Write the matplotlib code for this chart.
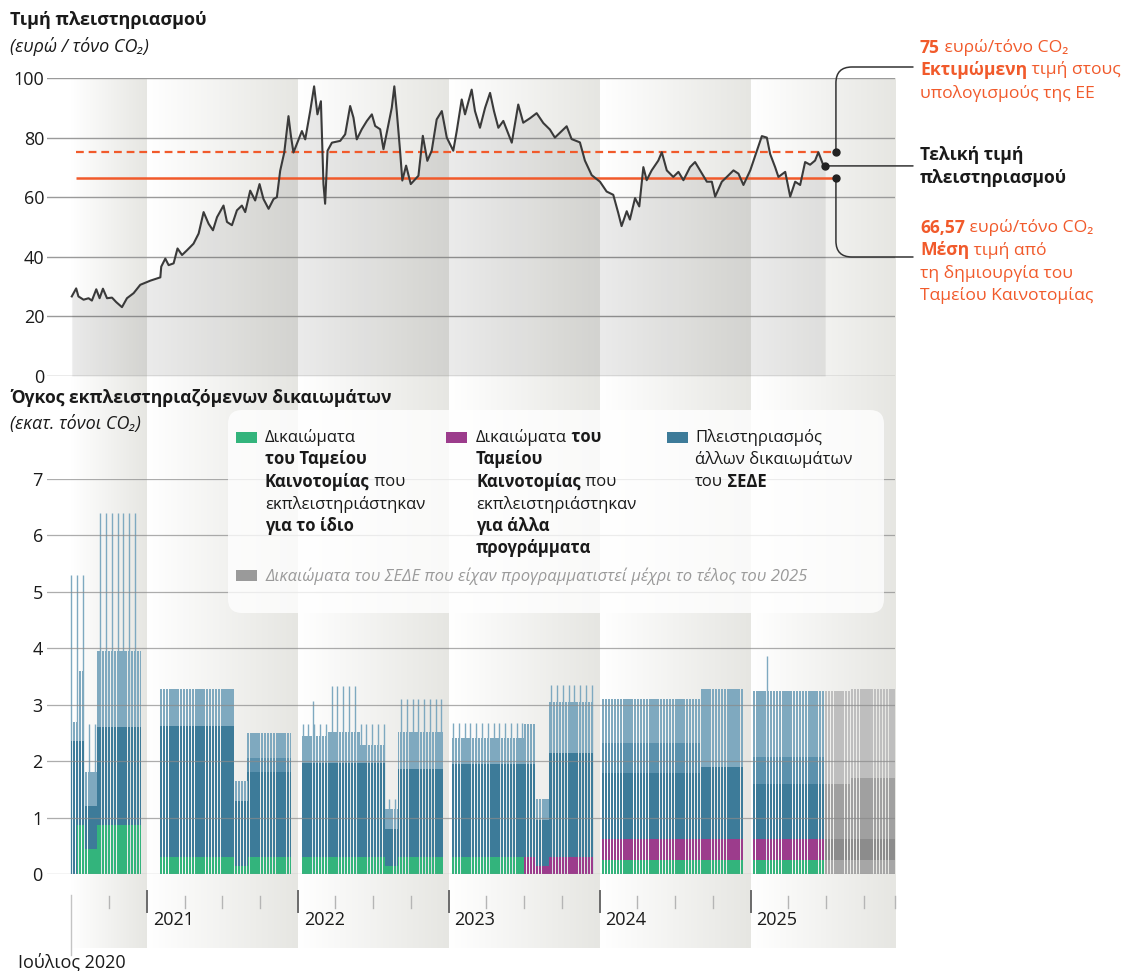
import numpy as np
import pandas as pd
import matplotlib
matplotlib.use("Agg")
import matplotlib.pyplot as plt
import matplotlib.dates as mdates
from matplotlib.colors import LinearSegmentedColormap
from matplotlib.patches import FancyBboxPatch, Rectangle
from matplotlib.transforms import IdentityTransform

plt.rcParams["font.family"] = ["Open Sans", "DejaVu Sans"]

# auction clearing price, EUR / t CO2 (decimal year)
price_t = [
    2020.500, 2020.529, 2020.544, 2020.578, 2020.611, 2020.633, 2020.662, 2020.684, 2020.706, 2020.733, 2020.766, 2020.794, 2020.832, 2020.865, 2020.909, 2020.953,
    2021.020, 2021.086, 2021.092, 2021.119, 2021.141, 2021.174, 2021.200, 2021.230, 2021.263, 2021.306, 2021.340, 2021.373, 2021.406, 2021.435, 2021.462, 2021.505, 2021.528, 2021.561, 2021.594, 2021.627, 2021.649, 2021.682, 2021.715, 2021.744, 2021.770, 2021.804, 2021.837, 2021.859, 2021.881, 2021.908, 2021.936, 2021.952, 2021.969,
    2022.025, 2022.047, 2022.080, 2022.106, 2022.128, 2022.151, 2022.168, 2022.179, 2022.195, 2022.224, 2022.279, 2022.312, 2022.345, 2022.367, 2022.389, 2022.422, 2022.456, 2022.489, 2022.511, 2022.544, 2022.566, 2022.599, 2022.621, 2022.638, 2022.654, 2022.676, 2022.691, 2022.716, 2022.747, 2022.798, 2022.827, 2022.857, 2022.886, 2022.919, 2022.953, 2022.986,
    2023.029, 2023.052, 2023.085, 2023.107, 2023.151, 2023.173, 2023.206, 2023.240, 2023.273, 2023.299, 2023.328, 2023.361, 2023.417, 2023.460, 2023.493, 2023.538, 2023.582, 2023.626, 2023.670, 2023.703, 2023.748, 2023.781, 2023.814, 2023.869, 2023.902, 2023.947,
    2024.002, 2024.046, 2024.090, 2024.123, 2024.145, 2024.179, 2024.200, 2024.234, 2024.262, 2024.289, 2024.311, 2024.344, 2024.388, 2024.411, 2024.444, 2024.487, 2024.521, 2024.554, 2024.598, 2024.631, 2024.664, 2024.709, 2024.742, 2024.764, 2024.808, 2024.841, 2024.885, 2024.918, 2024.951, 2024.996,
    2025.040, 2025.073, 2025.106, 2025.128, 2025.161, 2025.183, 2025.228, 2025.261, 2025.294, 2025.327, 2025.360, 2025.393, 2025.426, 2025.448, 2025.481, 2025.493,
]
price_v = [
    26.7, 29.4, 26.7, 25.6, 26.1, 25.3, 29.1, 26.1, 29.3, 26.1, 26.3, 24.8, 23.1, 26.1, 27.8, 30.6,
    32.0, 33.1, 36.7, 39.4, 37.2, 37.8, 42.8, 40.6, 42.2, 44.4, 47.8, 55.0, 51.1, 48.9, 53.3, 57.2, 51.7, 50.6, 55.6, 57.2, 55.0, 62.2, 58.9, 64.4, 59.4, 56.1, 59.4, 60.0, 68.9, 75.0, 87.2, 80.6, 75.0,
    82.2, 79.4, 88.9, 97.2, 87.8, 92.2, 64.4, 57.8, 75.6, 78.3, 78.9, 81.1, 90.6, 86.7, 79.4, 82.8, 85.6, 87.8, 83.9, 82.8, 76.1, 84.4, 90.0, 97.2, 88.9, 75.6, 65.6, 70.6, 64.4, 67.2, 80.6, 72.2, 75.6, 86.1, 88.9, 80.0,
    75.6, 82.2, 92.8, 87.8, 96.1, 88.9, 83.3, 90.0, 95.0, 88.9, 83.3, 85.6, 78.3, 91.1, 85.0, 86.5, 88.2, 84.9, 82.7, 80.0, 82.2, 83.8, 79.5, 78.4, 72.3, 67.4,
    65.2, 61.9, 60.8, 54.7, 50.3, 55.3, 52.5, 59.7, 56.9, 70.1, 65.7, 69.0, 72.3, 75.1, 69.0, 66.8, 68.5, 65.7, 70.1, 71.8, 69.0, 65.2, 65.2, 60.2, 65.2, 66.8, 69.0, 67.9, 64.1, 69.0,
    75.6, 80.5, 80.0, 74.5, 70.1, 66.8, 68.5, 60.2, 65.2, 64.1, 71.8, 70.9, 72.3, 75.1, 70.7, 70.5,
]

ref_price = 75.0      # EU estimate
avg_price = 66.57     # average since the Innovation Fund started
ref_from, ref_to = "2020-07-12", "2025-07-26"

# auction volumes per auction day (mn t CO2), constant over each period
seg_start = ["2020-07-01", "2020-07-16", "2020-08-03", "2020-09-01", "2021-01-29", "2021-08-02", "2021-09-01",
             "2022-01-10", "2022-03-16", "2022-06-01", "2022-08-01", "2022-09-01", "2023-01-09", "2023-07-03",
             "2023-08-01", "2023-09-01", "2024-01-08", "2024-09-02", "2025-01-06", "2025-07-01", "2025-09-01"]
seg_end = ["2020-07-15", "2020-07-31", "2020-08-31", "2020-12-15", "2021-07-30", "2021-08-31", "2021-12-15",
           "2022-03-15", "2022-05-31", "2022-07-29", "2022-08-31", "2022-12-16", "2023-06-30", "2023-07-31",
           "2023-08-31", "2023-12-15", "2024-08-30", "2024-12-13", "2025-06-30", "2025-08-29", "2025-12-15"]
inno_own = [0.00, 0.87, 0.45, 0.87, 0.31, 0.15, 0.31, 0.30, 0.30, 0.30, 0.15, 0.30, 0.30, 0.00, 0.00, 0.00, 0.24, 0.24, 0.24, 0.24, 0.24]
inno_other = [0.00, 0.00, 0.00, 0.00, 0.00, 0.00, 0.00, 0.00, 0.00, 0.00, 0.00, 0.00, 0.00, 0.30, 0.15, 0.30, 0.38, 0.38, 0.38, 0.38, 0.38]
total_low = [2.35, 2.35, 1.20, 2.60, 2.62, 1.30, 1.80, 1.96, 1.96, 1.96, 0.80, 1.86, 1.95, 1.95, 0.96, 2.15, 1.79, 1.90, 1.60, 1.60, 1.70]
total_mid = [2.35, 2.35, 1.20, 2.60, 2.62, 1.30, 2.05, 1.96, 1.96, 1.96, 0.80, 1.86, 1.95, 1.95, 0.96, 2.15, 2.32, 1.90, 2.07, 1.60, 1.70]
total_high = [2.70, 3.60, 1.80, 3.95, 3.28, 1.65, 2.50, 2.45, 2.51, 2.29, 1.15, 2.51, 2.41, 2.66, 1.33, 3.04, 3.10, 3.28, 3.25, 3.25, 3.28]
spike = [5.30, 5.30, 2.65, 6.40, 0, 0, 0, 2.66, 3.33, 2.66, 1.33, 3.10, 2.67, 0, 0, 3.35, 0, 0, 0, 0, 0]
planned = [0, 0, 0, 0, 0, 0, 0, 0, 0, 0, 0, 0, 0, 0, 0, 0, 0, 0, 0, 1, 1]
extra_spike_day = ["2022-02-07", "2025-02-10"]
extra_spike_val = [3.07, 3.87]

year_bands = ["2020-07-01", "2021-01-01", "2022-01-01", "2023-01-01", "2024-01-01", "2025-01-01", "2025-12-16"]
year_labels = ["2021", "2022", "2023", "2024", "2025"]

ORANGE = "#f15a2b"
GREEN, PURPLE, BLUE, BLUE_MID, BLUE_LIGHT = "#33b47c", "#9c3c8c", "#3d7b99", "#5b91ad", "#7fa9bf"
G_LOW, G_PURP, G_DARK, G_LIGHT = "#a6a6a6", "#8c8c8c", "#a0a0a0", "#bebebe"
INK = "#1a1a1a"

W, H = 1126, 971
fig = plt.figure(figsize=(W / 100, H / 100), dpi=100)


def box(x0, y0, x1, y1):
    return [x0 / W, 1 - y1 / H, (x1 - x0) / W, (y1 - y0) / H]


def ydate(t):
    y = int(t)
    a = pd.Timestamp(year=y, month=1, day=1)
    return a + (t - y) * (pd.Timestamp(year=y + 1, month=1, day=1) - a)


def dn(s):
    return mdates.date2num(pd.Timestamp(s))


x_lo, x_hi = dn("2020-05-03"), dn("2025-12-16")

ax_bg = fig.add_axes(box(47, 78, 895, 948), zorder=0)
ax_top = fig.add_axes(box(47, 78, 895, 376), zorder=2)
ax_bot = fig.add_axes(box(47, 479, 895, 874), zorder=2)
for a in (ax_bg, ax_top, ax_bot):
    a.patch.set_visible(False)
    for s in a.spines.values():
        s.set_visible(False)

# year bands: white to light grey
band_cmap = LinearSegmentedColormap.from_list("band", ["#ffffff", "#e6e6e2"])
grad = np.linspace(0, 1, 256).reshape(1, -1)
for a, b in zip(year_bands[:-1], year_bands[1:]):
    ax_bg.imshow(grad, cmap=band_cmap, aspect="auto", extent=[dn(a), dn(b), 0, 1])
ax_bg.set_xlim(x_lo, x_hi)
ax_bg.set_ylim(0, 1)
ax_bg.axis("off")

# ---- price panel
pdates = mdates.date2num([ydate(t) for t in price_t])
ax_top.set_xlim(x_lo, x_hi)
ax_top.set_ylim(0, 100)
ax_top.set_yticks(range(0, 101, 20))
ax_top.set_xticks([])
ax_top.tick_params(axis="y", length=0, pad=2, labelsize=13, labelcolor=INK)
ax_top.grid(axis="y", color="#9a9a9a", lw=1)
ax_top.set_axisbelow(True)
ax_top.fill_between(pdates, price_v, 0, color="black", alpha=0.08, lw=0)
ax_top.plot(pdates, price_v, color="#3a3a3a", lw=1.5, zorder=4)
ax_top.hlines(ref_price, dn(ref_from), dn(ref_to), color=ORANGE, lw=1.6,
              linestyles=(0, (3.5, 2.2)), zorder=3)
ax_top.hlines(avg_price, dn(ref_from), dn(ref_to), color=ORANGE, lw=1.8, zorder=3)
ax_top.plot([dn(ref_to)] * 2, [ref_price, avg_price], "o", ms=5, color="#222", zorder=5)
ax_top.plot([pdates[-1]], [price_v[-1]], "o", ms=5, color="#222", zorder=5)

conn = dict(arrowstyle="-", shrinkA=0, shrinkB=0, color="#333", lw=1.1)
ax_top.annotate("", xy=(dn(ref_to), ref_price), xycoords="data",
                xytext=(913, H - 67), textcoords="figure pixels",
                arrowprops=dict(connectionstyle="angle,angleA=0,angleB=90,rad=16", **conn), annotation_clip=False)
ax_top.annotate("", xy=(dn(ref_to), avg_price), xycoords="data",
                xytext=(913, H - 257), textcoords="figure pixels",
                arrowprops=dict(connectionstyle="angle,angleA=0,angleB=90,rad=16", **conn), annotation_clip=False)
ax_top.annotate("", xy=(pdates[-1], price_v[-1]), xycoords="data",
                xytext=(913, price_v[-1]), textcoords=("figure pixels", "data"),
                arrowprops=dict(connectionstyle="arc3", **conn), annotation_clip=False)

# ---- volume panel
days, lv = [], {k: [] for k in ("g", "p", "lo", "mid", "hi", "pl")}
for i in range(len(seg_start)):
    d = pd.bdate_range(seg_start[i], seg_end[i])
    days.extend(d)
    lv["g"] += [inno_own[i]] * len(d)
    lv["p"] += [inno_other[i]] * len(d)
    lv["lo"] += [total_low[i]] * len(d)
    lv["mid"] += [total_mid[i]] * len(d)
    lv["hi"] += [total_high[i]] * len(d)
    lv["pl"] += [planned[i]] * len(d)
days = mdates.date2num(pd.DatetimeIndex(days))
g, p, lo, mid, hi = (np.array(lv[k]) for k in ("g", "p", "lo", "mid", "hi"))
pl = np.array(lv["pl"]) == 1


def col(c_real, c_plan):
    return np.where(pl, c_plan, c_real)


bar_kw = dict(width=1.4, linewidth=0, zorder=2)
ax_bot.bar(days, g, bottom=0, color=col(GREEN, G_LOW), **bar_kw)
ax_bot.bar(days, p, bottom=g, color=col(PURPLE, G_PURP), **bar_kw)
ax_bot.bar(days, lo - g - p, bottom=g + p, color=col(BLUE, G_DARK), **bar_kw)
ax_bot.bar(days, mid - lo, bottom=lo, color=col(BLUE_MID, G_DARK), **bar_kw)
ax_bot.bar(days, hi - mid, bottom=mid, color=col(BLUE_LIGHT, G_LIGHT), **bar_kw)

# biweekly large single auctions
sp_days, sp_val = [], []
for d in pd.date_range("2020-07-01", "2025-12-31", freq="14D"):
    for i in range(len(seg_start)):
        if pd.Timestamp(seg_start[i]) <= d <= pd.Timestamp(seg_end[i]) and spike[i] > 0:
            sp_days.append(mdates.date2num(d))
            sp_val.append(spike[i])
sp_days += [dn(s) for s in extra_spike_day]
sp_val += extra_spike_val
ax_bot.vlines(sp_days, 0, sp_val, color="#7ea9c0", lw=1.0, zorder=1.8)

ax_bot.set_xlim(x_lo, x_hi)
ax_bot.set_ylim(0, 7)
ax_bot.set_yticks(range(0, 8))
ax_bot.set_xticks([])
ax_bot.tick_params(axis="y", length=0, pad=3, labelsize=13, labelcolor=INK)
ax_bot.grid(axis="y", color="#8a8a8a", lw=0.9, alpha=0.7)
ax_bot.set_axisbelow(False)

# time axis below the bars
xt = ax_bot.get_xaxis_transform()
qs = pd.date_range("2020-10-01", "2025-10-01", freq="QS")
for q, m in zip(mdates.date2num(qs), qs.month):
    if m == 1:
        ax_bot.plot([q, q], [-0.043, -0.097], transform=xt, clip_on=False, color="#6a6a6a", lw=1.4)
    else:
        ax_bot.plot([q, q], [-0.056, -0.087], transform=xt, clip_on=False, color="#b5b5b5", lw=1.0)
ax_bot.plot([x_hi, x_hi], [-0.056, -0.087], transform=xt, clip_on=False, color="#b5b5b5", lw=1.0)
ax_bot.plot([dn("2020-07-01")] * 2, [-0.053, -0.205], transform=xt, clip_on=False, color="#c4c4c4", lw=1.0)
for yl in year_labels:
    ax_bot.annotate(yl, xy=(dn(yl + "-01-01"), -0.117), xycoords=xt, xytext=(4, 0),
                    textcoords="offset points", ha="left", va="center", fontsize=13, color=INK,
                    annotation_clip=False)
ax_bot.text(dn("2020-07-01"), -0.223, "Ιούλιος 2020", transform=xt, ha="center", va="center",
            fontsize=13, color=INK, clip_on=False)

# ---- titles
fig.text(10 / W, 1 - 20 / H, "Τιμή πλειστηριασμού", fontsize=13, fontweight="bold", color=INK, va="center")
fig.text(10 / W, 1 - 46 / H, "(ευρώ / τόνο CO₂)", fontsize=13, fontstyle="italic", color=INK, va="center")
fig.text(10 / W, 1 - 398 / H, "Όγκος εκπλειστηριαζόμενων δικαιωμάτων", fontsize=12.6, fontweight="bold",
         color=INK, va="center")
fig.text(10 / W, 1 - 424 / H, "(εκατ. τόνοι CO₂)", fontsize=13, fontstyle="italic", color=INK, va="center")

renderer = fig.canvas.get_renderer()


def runs(x, y, parts, size=12.6, color=INK, style="normal"):
    cx = x
    for txt, bold in parts:
        t = fig.text(cx / W, 1 - y / H, txt, fontsize=size, fontweight="bold" if bold else "normal",
                     fontstyle=style, color=color, va="center", ha="left", zorder=6)
        cx = t.get_window_extent(renderer).x1


# right-hand notes
runs(920, 48, [("75", True), (" ευρώ/τόνο CO₂", False)], color=ORANGE)
runs(920, 70, [("Εκτιμώμενη", True), (" τιμή στους", False)], color=ORANGE)
runs(920, 93, [("υπολογισμούς της ΕΕ", False)], color=ORANGE)
runs(920, 155, [("Τελική τιμή", True)])
runs(920, 178, [("πλειστηριασμού", True)])
runs(920, 228, [("66,57", True), (" ευρώ/τόνο CO₂", False)], color=ORANGE)
runs(920, 250, [("Μέση", True), (" τιμή από", False)], color=ORANGE)
runs(920, 273, [("τη δημιουργία του", False)], color=ORANGE)
runs(920, 296, [("Ταμείου Καινοτομίας", False)], color=ORANGE)

# legend box
fig.add_artist(FancyBboxPatch((228, H - 613), 656, 203, boxstyle="round,pad=0,rounding_size=14",
                              transform=IdentityTransform(), facecolor="white", alpha=0.78,
                              edgecolor="none", zorder=5))
for x0, y0, c in ((236, 432, GREEN), (446, 432, PURPLE), (667, 432, BLUE), (236, 570, "#9a9a9a")):
    fig.add_artist(Rectangle((x0, H - y0 - 11), 21, 11, transform=IdentityTransform(), facecolor=c,
                             edgecolor="none", zorder=6))
ls = 12
runs(265, 437, [("Δικαιώματα", False)], size=ls)
runs(265, 459, [("του Ταμείου", True)], size=ls)
runs(265, 482, [("Καινοτομίας", True), (" που", False)], size=ls)
runs(265, 504, [("εκπλειστηριάστηκαν", False)], size=ls)
runs(265, 526, [("για το ίδιο", True)], size=ls)
runs(476, 437, [("Δικαιώματα", False), (" του", True)], size=ls)
runs(476, 459, [("Ταμείου", True)], size=ls)
runs(476, 482, [("Καινοτομίας", True), (" που", False)], size=ls)
runs(476, 504, [("εκπλειστηριάστηκαν", False)], size=ls)
runs(476, 526, [("για άλλα", True)], size=ls)
runs(476, 548, [("προγράμματα", True)], size=ls)
runs(695, 437, [("Πλειστηριασμός", False)], size=ls)
runs(695, 459, [("άλλων δικαιωμάτων", False)], size=ls)
runs(695, 482, [("του", False), (" ΣΕΔΕ", True)], size=ls)
runs(265, 576, [("Δικαιώματα του ΣΕΔΕ που είχαν προγραμματιστεί μέχρι το τέλος του 2025", False)],
     size=ls, color="#9a9a9a", style="italic")

fig.savefig("out.png", dpi=100)
